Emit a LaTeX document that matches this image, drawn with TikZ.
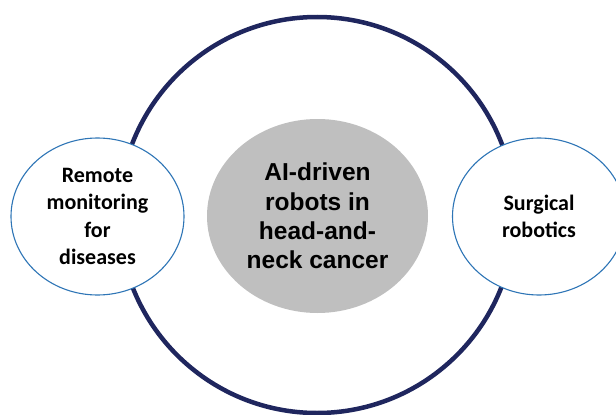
\documentclass[tikz,border=0pt]{standalone}
\usepackage{fontspec}
\setmainfont{Carlito}
\newfontfamily\centerfont{Liberation Sans}
\usetikzlibrary{shapes.geometric}
\definecolor{navy}{RGB}{31,38,94}
\definecolor{ringblue}{RGB}{46,117,182}
\definecolor{coregray}{RGB}{191,191,191}
\tikzset{
  ring/.style={circle, draw=navy, line width=4.5pt, minimum size=396pt, inner sep=0pt},
  sidebox/.style={ellipse, draw=ringblue, line width=1.1pt, fill=white, minimum width=173pt, minimum height=157pt, inner sep=0pt, align=center, font=\fontsize{22}{27.3}\selectfont\bfseries},
  corebox/.style={ellipse, fill=coregray, minimum width=221pt, minimum height=194pt, inner sep=0pt, align=center, font=\centerfont\fontsize{24.5}{29.3}\selectfont\bfseries}
}
\begin{document}
\begin{tikzpicture}[x=1pt,y=-1pt]
\useasboundingbox (0,0) rectangle (616,415);
\node[ring] (outer) at (317,215) {};
\node[sidebox] (left) at (97.5,216.5) {Remote\\monitoring\\for\\diseases};
\node[sidebox] (right) at (539,216.5) {Surgical\\robotics};
\node[corebox] (core) at (317.5,216) {AI-driven\\robots in\\head-and-\\neck cancer};
\end{tikzpicture}
\end{document}
